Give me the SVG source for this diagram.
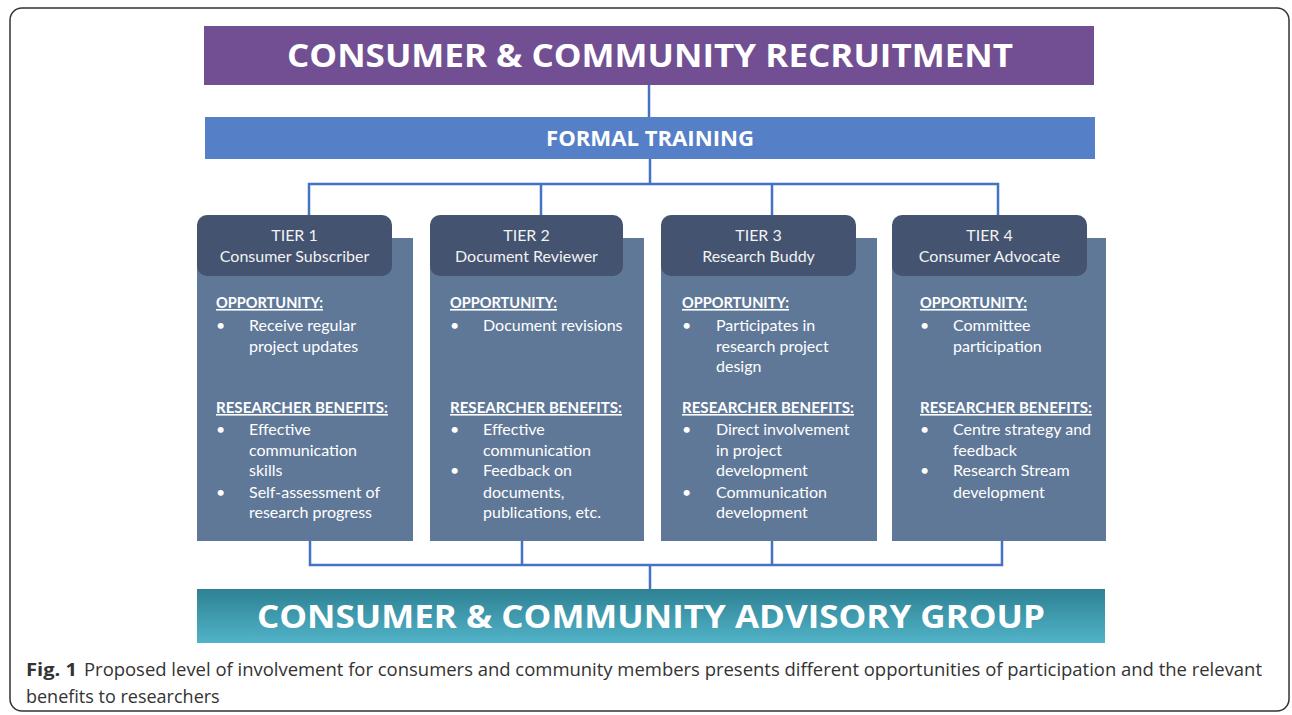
<svg xmlns="http://www.w3.org/2000/svg" width="1292" height="715" viewBox="0 0 1292 715">
<defs>
<linearGradient id="teal" x1="0" y1="0" x2="0" y2="1">
<stop offset="0" stop-color="#2d8192"/>
<stop offset="1" stop-color="#52b3c8"/>
</linearGradient>
<style>
.big{font-family:"Open Sans","Liberation Sans",sans-serif;font-weight:700;fill:#ffffff;text-anchor:middle}
.hdr{fill:#435370}
.body{fill:#5f7898}
.ht{font-family:Lato,"Open Sans",sans-serif;font-size:16px;fill:#f2f2f2;text-anchor:middle}
.sec{font-family:Lato,"Open Sans",sans-serif;font-size:16px;font-weight:700;fill:#ffffff;text-decoration:underline}
.tx{font-family:Lato,"Open Sans",sans-serif;font-size:16px;fill:#ffffff}
.conn{stroke:#4472c4;stroke-width:2.5;fill:none}
.cap{font-family:"Open Sans","Liberation Sans",sans-serif;font-size:18px;fill:#333333}
</style>
</defs>
<rect x="10" y="8" width="1279" height="703" rx="12" fill="#ffffff" stroke="#333333" stroke-width="1.5"/>

<g id="connectors">
<path class="conn" d="M649 85V118"/>
<path class="conn" d="M650 159V184M309 215V184H998V215M541 184V215M772 184V215"/>
<path class="conn" d="M310 541V565H1002V541M522 541V565M772 541V565M650 565V589"/>
</g>

<g id="recruitment">
<rect x="204" y="26" width="890" height="59" fill="#714f92"/>
<text class="big" x="650" y="67" font-size="33" textLength="726" lengthAdjust="spacingAndGlyphs">CONSUMER &amp; COMMUNITY RECRUITMENT</text>
</g>

<g id="formal-training">
<rect x="205" y="117" width="890" height="42" fill="#5580c8"/>
<text class="big" x="650" y="146" font-size="21" textLength="208" lengthAdjust="spacingAndGlyphs">FORMAL TRAINING</text>
</g>

<g id="tier1">
<rect class="body" x="197" y="238" width="216" height="303"/>
<rect class="hdr" x="197" y="215" width="195" height="61" rx="10"/>
<text class="ht" x="294.5" y="241">TIER 1</text>
<text class="ht" x="294.5" y="262">Consumer Subscriber</text>
<text class="sec" x="216" y="308" textLength="107" lengthAdjust="spacingAndGlyphs">OPPORTUNITY:</text>
<text class="tx" x="216" y="331">•</text>
<text class="tx" x="249" y="331">Receive regular</text>
<text class="tx" x="249" y="352">project updates</text>
<text class="sec" x="216" y="413" textLength="172" lengthAdjust="spacingAndGlyphs">RESEARCHER BENEFITS:</text>
<text class="tx" x="216" y="435">•</text>
<text class="tx" x="249" y="435">Effective</text>
<text class="tx" x="249" y="456">communication</text>
<text class="tx" x="249" y="476">skills</text>
<text class="tx" x="216" y="498">•</text>
<text class="tx" x="249" y="498">Self-assessment of</text>
<text class="tx" x="249" y="518">research progress</text>
</g>

<g id="tier2">
<rect class="body" x="430" y="238" width="214" height="303"/>
<rect class="hdr" x="430" y="215" width="193" height="61" rx="10"/>
<text class="ht" x="526.5" y="241">TIER 2</text>
<text class="ht" x="526.5" y="262">Document Reviewer</text>
<text class="sec" x="450" y="308" textLength="107" lengthAdjust="spacingAndGlyphs">OPPORTUNITY:</text>
<text class="tx" x="450" y="331">•</text>
<text class="tx" x="483" y="331">Document revisions</text>
<text class="sec" x="450" y="413" textLength="172" lengthAdjust="spacingAndGlyphs">RESEARCHER BENEFITS:</text>
<text class="tx" x="450" y="435">•</text>
<text class="tx" x="483" y="435">Effective</text>
<text class="tx" x="483" y="456">communication</text>
<text class="tx" x="450" y="476">•</text>
<text class="tx" x="483" y="476">Feedback on</text>
<text class="tx" x="483" y="498">documents,</text>
<text class="tx" x="483" y="518">publications, etc.</text>
</g>

<g id="tier3">
<rect class="body" x="661" y="238" width="216" height="303"/>
<rect class="hdr" x="661" y="215" width="195" height="61" rx="10"/>
<text class="ht" x="758.5" y="241">TIER 3</text>
<text class="ht" x="758.5" y="262">Research Buddy</text>
<text class="sec" x="682" y="308" textLength="107" lengthAdjust="spacingAndGlyphs">OPPORTUNITY:</text>
<text class="tx" x="682" y="331">•</text>
<text class="tx" x="716" y="331">Participates in</text>
<text class="tx" x="716" y="352">research project</text>
<text class="tx" x="716" y="372">design</text>
<text class="sec" x="682" y="413" textLength="172" lengthAdjust="spacingAndGlyphs">RESEARCHER BENEFITS:</text>
<text class="tx" x="682" y="435">•</text>
<text class="tx" x="716" y="435">Direct involvement</text>
<text class="tx" x="716" y="456">in project</text>
<text class="tx" x="716" y="476">development</text>
<text class="tx" x="682" y="498">•</text>
<text class="tx" x="716" y="498">Communication</text>
<text class="tx" x="716" y="518">development</text>
</g>

<g id="tier4">
<rect class="body" x="892" y="238" width="214" height="303"/>
<rect class="hdr" x="892" y="215" width="195" height="61" rx="10"/>
<text class="ht" x="989.5" y="241">TIER 4</text>
<text class="ht" x="989.5" y="262">Consumer Advocate</text>
<text class="sec" x="920" y="308" textLength="107" lengthAdjust="spacingAndGlyphs">OPPORTUNITY:</text>
<text class="tx" x="920" y="331">•</text>
<text class="tx" x="953" y="331">Committee</text>
<text class="tx" x="953" y="352">participation</text>
<text class="sec" x="920" y="413" textLength="172" lengthAdjust="spacingAndGlyphs">RESEARCHER BENEFITS:</text>
<text class="tx" x="920" y="435">•</text>
<text class="tx" x="953" y="435">Centre strategy and</text>
<text class="tx" x="953" y="456">feedback</text>
<text class="tx" x="920" y="476">•</text>
<text class="tx" x="953" y="476">Research Stream</text>
<text class="tx" x="953" y="498">development</text>
</g>

<g id="advisory-group">
<rect x="197" y="589" width="908" height="54" fill="url(#teal)"/>
<text class="big" x="651" y="628" font-size="33" textLength="788" lengthAdjust="spacingAndGlyphs">CONSUMER &amp; COMMUNITY ADVISORY GROUP</text>
</g>

<g id="caption">
<text class="cap" x="26" y="676" font-weight="700" textLength="51" lengthAdjust="spacingAndGlyphs">Fig. 1</text>
<text class="cap" x="84" y="676" textLength="1178" lengthAdjust="spacingAndGlyphs">Proposed level of involvement for consumers and community members presents different opportunities of participation and the relevant</text>
<text class="cap" x="26" y="703">benefits to researchers</text>
</g>
</svg>
